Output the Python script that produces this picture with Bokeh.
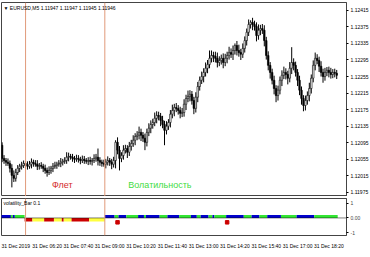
from bokeh.plotting import figure
from bokeh.layouts import column
from bokeh.models import Range1d, FixedTicker, Span, Label, NumeralTickFormatter, ColumnDataSource
from bokeh.embed import file_html
from bokeh.resources import INLINE

# ---------------- data ----------------
title_text = "\u25bc EURUSD,M5  1.11947 1.11947 1.11945 1.11946"
first_open = 1.12089
closes = [
    1.12057, 1.12052, 1.12048, 1.12045, 1.12033, 1.12016, 1.12009, 1.12023, 1.12033, 1.12038,
    1.12040, 1.12045, 1.12040, 1.12038, 1.12043, 1.12048, 1.12045, 1.12043, 1.12038, 1.12040,
    1.12038, 1.12033, 1.12028, 1.12023, 1.12028, 1.12033, 1.12038, 1.12040, 1.12043, 1.12045,
    1.12048, 1.12050, 1.12052, 1.12060, 1.12062, 1.12060, 1.12057, 1.12055, 1.12057, 1.12055,
    1.12052, 1.12055, 1.12052, 1.12050, 1.12052, 1.12050, 1.12052, 1.12057, 1.12060, 1.12052,
    1.12048, 1.12045, 1.12043, 1.12048, 1.12052, 1.12048, 1.12043, 1.12052, 1.12096, 1.12077,
    1.12057, 1.12064, 1.12077, 1.12081, 1.12072, 1.12086, 1.12093, 1.12101, 1.12110, 1.12113,
    1.12120, 1.12113, 1.12106, 1.12096, 1.12120, 1.12130, 1.12139, 1.12144, 1.12154, 1.12161,
    1.12159, 1.12149, 1.12139, 1.12125, 1.12135, 1.12144, 1.12164, 1.12173, 1.12180, 1.12178,
    1.12173, 1.12166, 1.12168, 1.12188, 1.12202, 1.12207, 1.12212, 1.12197, 1.12178, 1.12205,
    1.12231, 1.12246, 1.12255, 1.12265, 1.12275, 1.12284, 1.12299, 1.12306, 1.12304, 1.12299,
    1.12289, 1.12294, 1.12299, 1.12289, 1.12299, 1.12306, 1.12313, 1.12309, 1.12318, 1.12330,
    1.12318, 1.12313, 1.12309, 1.12323, 1.12342, 1.12362, 1.12381, 1.12386, 1.12381, 1.12376,
    1.12354, 1.12367, 1.12371, 1.12367, 1.12342, 1.12306, 1.12282, 1.12265, 1.12246, 1.12226,
    1.12209, 1.12222, 1.12246, 1.12258, 1.12265, 1.12260, 1.12251, 1.12275, 1.12289, 1.12282,
    1.12265, 1.12246, 1.12222, 1.12202, 1.12185, 1.12197, 1.12209, 1.12226, 1.12251, 1.12282,
    1.12299, 1.12294, 1.12280, 1.12265, 1.12255, 1.12265, 1.12270, 1.12265, 1.12260, 1.12265,
    1.12263, 1.12258,
]
# wick lengths beyond the body, in points (0.00001)
wick_up_pts = [
    7, 8, 6, 9, 7, 10, 12, 9, 8, 6,
    9, 7, 6, 10, 8, 9, 6, 8, 10, 6,
    8, 6, 9, 7, 10, 6, 8, 9, 6, 8,
    10, 6, 8, 12, 9, 6, 8, 6, 9, 8,
    6, 9, 8, 6, 8, 9, 6, 10, 8, 21,
    8, 6, 9, 8, 10, 6, 8, 9, 5, 12,
    10, 8, 12, 9, 8, 11, 9, 12, 8, 10,
    14, 9, 8, 11, 9, 12, 10, 9, 14, 10,
    9, 8, 11, 9, 12, 8, 10, 14, 9, 11,
    8, 9, 11, 12, 9, 14, 10, 8, 9, 12,
    11, 9, 12, 10, 14, 11, 19, 12, 9, 11,
    14, 10, 9, 12, 11, 9, 14, 10, 12, 5,
    11, 14, 9, 12, 10, 9, 12, 5, 11, 9,
    10, 14, 9, 11, 12, 9, 10, 8, 9, 11,
    8, 11, 9, 12, 14, 10, 9, 15, 37, 10,
    9, 8, 11, 9, 8, 12, 10, 14, 9, 12,
    14, 10, 9, 12, 9, 11, 8, 9, 11, 8,
    9, 8,
]
wick_dn_pts = [
    9, 8, 9, 6, 10, 29, 9, 8, 6, 9,
    8, 6, 9, 8, 6, 10, 8, 6, 9, 8,
    6, 9, 8, 10, 6, 8, 9, 6, 8, 6,
    9, 8, 6, 8, 10, 6, 8, 9, 6, 8,
    9, 6, 8, 6, 9, 8, 10, 6, 8, 12,
    9, 8, 6, 10, 8, 9, 12, 8, 19, 10,
    29, 9, 10, 8, 14, 9, 10, 8, 12, 9,
    10, 14, 9, 19, 10, 9, 12, 10, 9, 12,
    10, 14, 9, 36, 10, 9, 12, 10, 14, 9,
    10, 12, 9, 10, 14, 9, 12, 10, 14, 10,
    12, 10, 9, 14, 10, 12, 9, 10, 14, 10,
    12, 9, 10, 14, 9, 12, 10, 9, 14, 10,
    12, 10, 14, 9, 10, 12, 9, 10, 14, 10,
    14, 10, 12, 9, 14, 10, 12, 15, 10, 14,
    16, 12, 10, 14, 9, 12, 15, 10, 14, 12,
    10, 14, 12, 15, 14, 12, 10, 14, 12, 10,
    12, 9, 14, 10, 15, 10, 9, 12, 10, 9,
    10, 9,
]
price_ticks = [1.11975, 1.12015, 1.12055, 1.12095, 1.12135, 1.12175,
               1.12215, 1.12255, 1.12295, 1.12335, 1.12375, 1.12415]
tick_bars = [0, 16, 32, 48, 64, 80, 96, 112, 128, 144, 160, 176]
time_labels = ["31 Dec 2019", "31 Dec 06:20", "31 Dec 07:40", "31 Dec 09:00",
               "31 Dec 10:20", "31 Dec 11:40", "31 Dec 13:00", "31 Dec 14:20",
               "31 Dec 15:40", "31 Dec 17:00", "31 Dec 18:20", "31 Dec 19:40"]
vline_bars = [12, 52.5]
zone_labels = ["Флет", "Волатильность"]
zone_label_bars = [25.5, 64.5]
zone_label_price = 1.11992

# volatility_Bar indicator: segments of bars with a state colour
seg_start = [0, 5, 6, 7, 12, 16, 22, 27, 31, 32, 36, 45, 53, 58, 60, 64, 70, 73,
             74, 81, 85, 91, 97, 100, 102, 106, 108, 109, 115, 124, 128, 132, 136, 143, 151, 160]
seg_state = ["blue", "green", "blue", "green", "red", "yellow", "red", "yellow", "red",
             "yellow", "red", "yellow", "blue", "green", "blue", "green", "blue", "green",
             "blue", "green", "blue", "green", "blue", "green", "blue", "green", "blue",
             "green", "blue", "green", "blue", "green", "blue", "green", "blue", "green"]
state_level = {"blue": 0.2, "green": 0.2, "red": -0.25, "yellow": -0.25}
alert_bars = [59, 115]
alert_level = -0.3

# ---------------- styling ----------------
FONT = "Liberation Sans"
state_color = {"blue": "#0000cc", "green": "#33e633", "red": "#cc0000", "yellow": "#ffff40"}
vline_color = "#e09a7a"
zone_colors = ["#d42a2a", "#3fdc3f"]
label_shift = 7  # MT4 time labels start at their tick; Bokeh centres them

n = len(closes)
idx = list(range(n))
opens = [first_open] + closes[:-1]
highs = [max(o, c) + u * 1e-5 for o, c, u in zip(opens, closes, wick_up_pts)]
lows = [min(o, c) - d * 1e-5 for o, c, d in zip(opens, closes, wick_dn_pts)]
body_top = [max(o, c) for o, c in zip(opens, closes)]
body_bot = [min(o, c) for o, c in zip(opens, closes)]
body_fill = ["white" if c >= o else "black" for o, c in zip(opens, closes)]

src = ColumnDataSource(dict(x=idx, hi=highs, lo=lows, top=body_top, bot=body_bot, fill=body_fill))

xr = Range1d(-0.3, 176)

# ---------------- main chart ----------------
p = figure(frame_width=345, frame_height=194, x_range=xr, y_range=Range1d(1.11965, 1.12434),
           output_backend="svg", toolbar_location=None, x_axis_location=None,
           y_axis_location="right", min_border_left=1, min_border_right=24,
           min_border_top=2, min_border_bottom=0)
p.grid.visible = False
p.outline_line_color = "#444444"
p.background_fill_color = "white"
p.border_fill_color = "white"
ya = p.yaxis[0]
ya.ticker = FixedTicker(ticks=price_ticks)
ya.formatter = NumeralTickFormatter(format="0.00000")
ya.major_label_text_font = FONT
ya.major_label_text_font_size = "5px"
ya.major_label_text_color = "black"
ya.major_tick_in = 0
ya.major_tick_out = 2
ya.minor_tick_line_color = None
ya.major_label_standoff = 2
ya.axis_line_color = "#444444"

p.segment(x0="x", y0="lo", x1="x", y1="hi", source=src, line_color="black", line_width=1)
p.vbar(x="x", width=0.8, top="top", bottom="bot", fill_color="fill", line_color="black",
       line_width=0.6, source=src)

for b in vline_bars:
    p.add_layout(Span(location=b, dimension="height", line_color=vline_color, line_width=1))

for t, b, c in zip(zone_labels, zone_label_bars, zone_colors):
    p.add_layout(Label(x=b, y=zone_label_price, text=t, text_color=c, text_font=FONT,
                       text_font_size="9px", text_align="left", text_baseline="middle"))

p.add_layout(Label(x=2, y=189, x_units="screen", y_units="screen", text=title_text,
                   text_font=FONT, text_font_size="5px", text_color="black",
                   text_baseline="middle"))

# ---------------- indicator ----------------
q = figure(frame_width=345, frame_height=37, x_range=xr, y_range=Range1d(-1.2, 1.33),
           output_backend="svg", toolbar_location=None, y_axis_location="right",
           min_border_left=1, min_border_right=24, min_border_top=2, min_border_bottom=22)
q.grid.visible = False
q.outline_line_color = "#444444"
qy = q.yaxis[0]
qy.ticker = FixedTicker(ticks=[-1, 0, 1])
qy.major_label_overrides = {-1: "-1", 0: "0.00", 1: "1"}
qy.major_label_text_font = FONT
qy.major_label_text_font_size = "5px"
qy.major_tick_in = 0
qy.major_tick_out = 2
qy.minor_tick_line_color = None
qy.major_label_standoff = 2
qy.axis_line_color = "#444444"

qx = q.xaxis[0]
label_ticks = [b + label_shift for b in tick_bars]
qx.ticker = FixedTicker(ticks=label_ticks)
qx.major_label_overrides = {t: s for t, s in zip(label_ticks, time_labels)}
qx.major_label_text_font = FONT
qx.major_label_text_font_size = "5px"
qx.major_label_text_color = "black"
qx.major_tick_line_color = None
qx.major_tick_in = 0
qx.major_tick_out = 0
qx.major_label_standoff = 7
qx.minor_tick_line_color = None
qx.axis_line_color = None

seg_end = seg_start[1:] + [n]
q.quad(left=[s - 0.5 for s in seg_start], right=[e - 0.5 for e in seg_end],
       bottom=[0 for _ in seg_start], top=[state_level[s] for s in seg_state],
       fill_color=[state_color[s] for s in seg_state], line_color=None)
q.line(x=[xr.start, xr.end], y=[0, 0], line_color="black", line_dash="1 1", line_width=1)
q.scatter(x=alert_bars, y=[alert_level] * len(alert_bars), marker="square", size=3.5,
          fill_color="#cc0000", line_color="#cc0000")
for b in vline_bars:
    q.add_layout(Span(location=b, dimension="height", line_color=vline_color, line_width=1))

q.add_layout(Label(x=2, y=33, x_units="screen", y_units="screen", text="volatility_Bar 0.1",
                   text_font=FONT, text_font_size="5px", text_color="black",
                   text_baseline="middle"))

layout = column(p, q, spacing=0)
open("out.html", "w").write(file_html(layout, INLINE))
